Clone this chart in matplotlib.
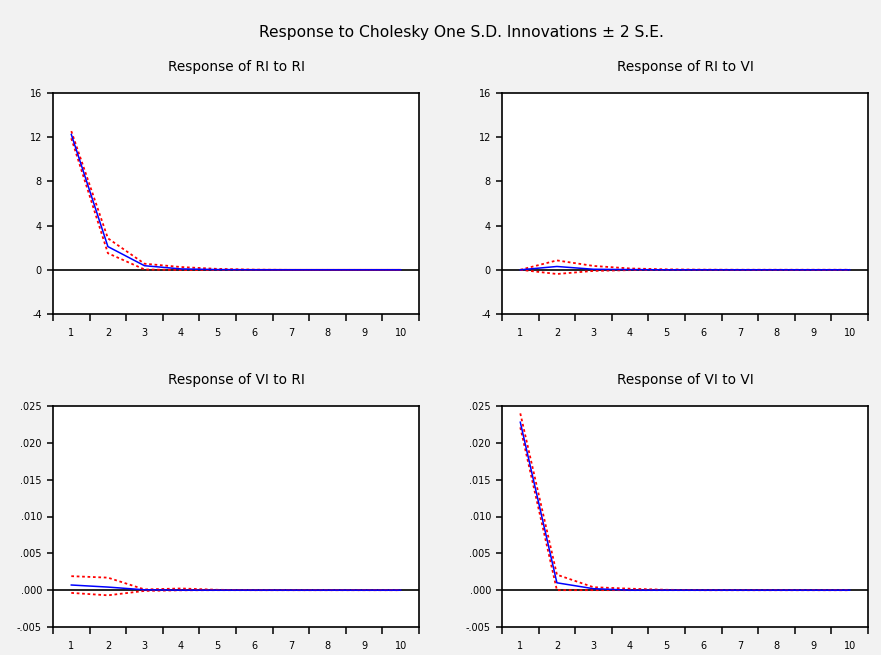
import matplotlib
matplotlib.use("Agg")
import matplotlib.pyplot as plt
import numpy as np

periods = [1, 2, 3, 4, 5, 6, 7, 8, 9, 10]

ri_ri_resp = [12.25, 2.1, 0.37, 0.08, 0.02, 0.0, 0.0, 0.0, 0.0, 0.0]
ri_ri_up = [12.55, 2.85, 0.55, 0.25, 0.08, 0.02, 0.0, 0.0, 0.0, 0.0]
ri_ri_lo = [11.9, 1.5, 0.03, -0.02, -0.01, 0.0, 0.0, 0.0, 0.0, 0.0]

ri_vi_resp = [0.0, 0.3, 0.05, 0.02, 0.0, 0.0, 0.0, 0.0, 0.0, 0.0]
ri_vi_up = [0.0, 0.85, 0.35, 0.12, 0.04, 0.01, 0.0, 0.0, 0.0, 0.0]
ri_vi_lo = [0.0, -0.38, -0.1, -0.03, -0.01, 0.0, 0.0, 0.0, 0.0, 0.0]

vi_ri_resp = [0.0007, 0.00042, 0.00005, 0.0, 0.0, 0.0, 0.0, 0.0, 0.0, 0.0]
vi_ri_up = [0.0019, 0.0017, 0.0001, 0.00023, 0.00005, 0.0, 0.0, 0.0, 0.0, 0.0]
vi_ri_lo = [-0.00037, -0.0007, -0.0001, -0.00002, 0.0, 0.0, 0.0, 0.0, 0.0, 0.0]

vi_vi_resp = [0.0228, 0.001, 0.0002, 0.0, 0.0, 0.0, 0.0, 0.0, 0.0, 0.0]
vi_vi_up = [0.0240, 0.0021, 0.0004, 0.0002, 0.00005, 0.0, 0.0, 0.0, 0.0, 0.0]
vi_vi_lo = [0.0221, 0.0, 0.0, 0.0, 0.0, 0.0, 0.0, 0.0, 0.0, 0.0]

top_yticks = [-4, 0, 4, 8, 12, 16]
bot_yticks = [-0.005, 0.0, 0.005, 0.010, 0.015, 0.020, 0.025]

titles = ["Response of RI to RI", "Response of RI to VI",
          "Response of VI to RI", "Response of VI to VI"]

plt.rcParams['font.family'] = ['DejaVu Sans']
fig = plt.figure(figsize=(8.81, 6.55), dpi=100, facecolor="#f2f2f2")

W, H = 881, 655
boxes = [(53, 93, 419, 314), (502, 93, 868, 314),
         (53, 406, 419, 627), (502, 406, 868, 627)]
data = [(ri_ri_resp, ri_ri_up, ri_ri_lo), (ri_vi_resp, ri_vi_up, ri_vi_lo),
        (vi_ri_resp, vi_ri_up, vi_ri_lo), (vi_vi_resp, vi_vi_up, vi_vi_lo)]

def fmt_small(v):
    s = f"{v:.3f}"
    if s.startswith("-0"):
        return "-" + s[2:]
    if s.startswith("0"):
        return s[1:]
    return s

for i, ((x0, y0, x1, y1), (r, u, l)) in enumerate(zip(boxes, data)):
    ax = fig.add_axes([x0 / W, 1 - y1 / H, (x1 - x0) / W, (y1 - y0) / H])
    ax.set_facecolor("white")
    ax.axhline(0, color="black", lw=1.2, zorder=1)
    ax.plot(periods, r, color="#0000ff", lw=1.1, zorder=3)
    ax.plot(periods, u, color="#ff0000", lw=1.3, ls=(0, (1.5, 1.5)), zorder=2)
    ax.plot(periods, l, color="#ff0000", lw=1.3, ls=(0, (1.5, 1.5)), zorder=2)
    ax.set_xlim(0.5, 10.5)
    if i < 2:
        ax.set_ylim(-4, 16)
        ax.set_yticks(top_yticks)
        ax.set_yticklabels([str(t) for t in top_yticks])
    else:
        ax.set_ylim(-0.005, 0.025)
        ax.set_yticks(bot_yticks)
        ax.set_yticklabels([fmt_small(t) for t in bot_yticks])
    ax.set_xticks(np.arange(0.5, 11.0, 1.0))
    ax.set_xticklabels([])
    ax.set_xticks(periods, minor=True)
    ax.set_xticklabels([str(p) for p in periods], minor=True)
    ax.tick_params(axis="x", which="major", direction="out", length=5, width=1.1)
    ax.tick_params(axis="x", which="minor", length=0, pad=10, labelsize=7)
    ax.tick_params(axis="y", direction="out", length=4, width=1.1, labelsize=7, pad=4)
    for sp in ax.spines.values():
        sp.set_linewidth(1.2)
        sp.set_color("black")
    fig.text(((x0 + x1) / 2) / W, 1 - (y0 - 26) / H, titles[i],
             ha="center", va="center", fontsize=9.8)

fig.text(461 / W, 1 - 33 / H, "Response to Cholesky One S.D. Innovations \u00b1 2 S.E.",
         ha="center", va="center", fontsize=11.2)

fig.savefig("out.png", dpi=100, facecolor=fig.get_facecolor())
